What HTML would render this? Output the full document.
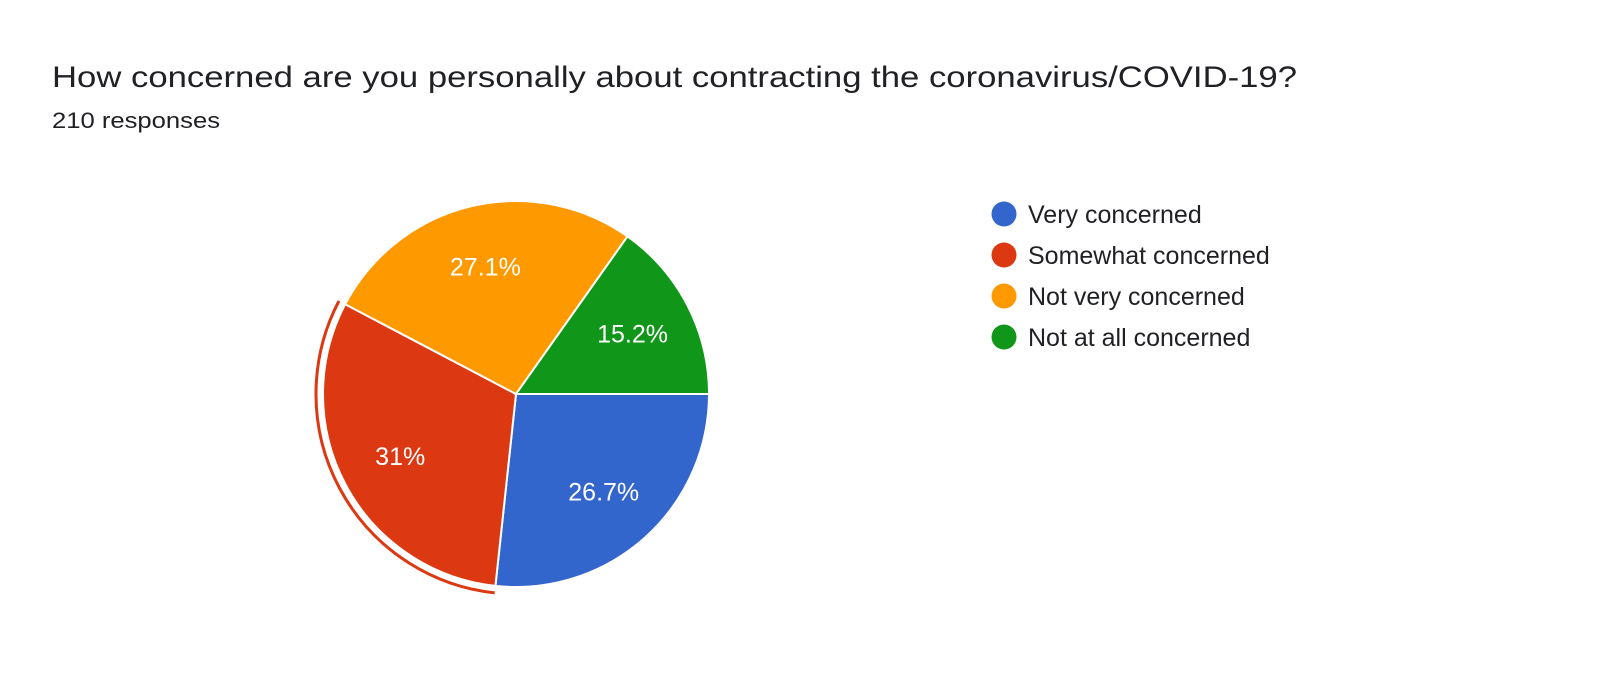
<!DOCTYPE html>
<html><head><meta charset="utf-8"><style>
html,body{margin:0;padding:0;background:#fff;}
svg{display:block;font-family:"Liberation Sans",Arial,sans-serif;}
</style></head><body>
<svg id="chart" width="1600" height="673" viewBox="0 0 1600 673">
<text x="52" y="87" font-size="30" fill="#202124" textLength="1245" lengthAdjust="spacingAndGlyphs">How concerned are you personally about contracting the coronavirus/COVID-19?</text>
<text x="52" y="128" font-size="22" fill="#202124" textLength="168" lengthAdjust="spacingAndGlyphs">210 responses</text>
<g id="slices"></g>
<g id="legend"></g>
</svg>
<script>
const categories = ["Very concerned","Somewhat concerned","Not very concerned","Not at all concerned"];
const values = [26.7, 31, 27.1, 15.2];
const labels = ["26.7%","31%","27.1%","15.2%"];
const colors = ["#3366cc","#dc3912","#ff9900","#109618"];
const highlighted = 1;

const NS="http://www.w3.org/2000/svg";
const cx=516, cy=394, r=193;
const total=values.reduce((a,b)=>a+b,0);
const g=document.getElementById('slices');
const lg=document.getElementById('legend');
function pt(rad,a){return [cx+rad*Math.cos(a), cy+rad*Math.sin(a)];}
let start=0;
values.forEach((v,i)=>{
  const sweep=v/total*2*Math.PI, end=start+sweep;
  const p1=pt(r,start), p2=pt(r,end), large=sweep>Math.PI?1:0;
  const path=document.createElementNS(NS,'path');
  path.setAttribute('d',`M${cx},${cy} L${p1[0]},${p1[1]} A${r},${r} 0 ${large} 1 ${p2[0]},${p2[1]} Z`);
  path.setAttribute('fill',colors[i]);
  path.setAttribute('stroke','#fff');
  path.setAttribute('stroke-width','2');
  
  
  g.appendChild(path);
  if(i===highlighted){
    const R=200, q1=pt(R,start), q2=pt(R,end);
    const arc=document.createElementNS(NS,'path');
    arc.setAttribute('d',`M${q1[0]},${q1[1]} A${R},${R} 0 ${large} 1 ${q2[0]},${q2[1]}`);
    arc.setAttribute('fill','none');
    arc.setAttribute('stroke',colors[i]);
    arc.setAttribute('stroke-width','3');
    
    
    g.appendChild(arc);
  }
  const mid=(start+end)/2, lp=pt(r*0.68,mid);
  const t=document.createElementNS(NS,'text');
  t.setAttribute('x',lp[0]); t.setAttribute('y',lp[1]+9);
  t.setAttribute('text-anchor','middle'); t.setAttribute('font-size','25');
  t.setAttribute('fill','#fff');
  t.textContent=labels[i];
  
  
  g.appendChild(t);
  start=end;
});
categories.forEach((c,i)=>{
  const y=214+i*41;
  const e=document.createElementNS(NS,'g');
  
  
  const ci=document.createElementNS(NS,'circle');
  ci.setAttribute('cx',1004); ci.setAttribute('cy',y); ci.setAttribute('r',12.5);
  ci.setAttribute('fill',colors[i]);
  
  
  const t=document.createElementNS(NS,'text');
  t.setAttribute('x',1028); t.setAttribute('y',y+9);
  t.setAttribute('font-size','25'); t.setAttribute('fill','#202124');
  t.textContent=c;
  
  
  e.appendChild(ci); e.appendChild(t); lg.appendChild(e);
});
</script>
</body></html>
